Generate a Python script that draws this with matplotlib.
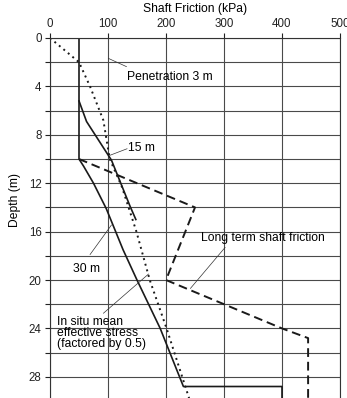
import matplotlib
matplotlib.use("Agg")
import matplotlib.pyplot as plt

plt.rcParams['font.family'] = ['Liberation Sans', 'DejaVu Sans']

# in situ mean effective stress (factored by 0.5) - dotted
stress_kpa = [0, 50, 69, 92, 103, 124, 149, 172, 201, 240]
stress_depth = [0, 2, 4, 6.8, 10, 12.3, 16, 20, 24, 29.8]

# penetration 15 m - solid
pen15_kpa = [50, 63, 106, 138, 148]
pen15_depth = [5.2, 6.9, 10.1, 13.9, 15]

# penetration 30 m - solid
pen30_kpa = [50, 50, 58, 75, 97, 126, 150, 190, 200, 230, 400, 400]
pen30_depth = [0, 10, 10.6, 12, 14.1, 17.5, 20, 24, 25.2, 28.8, 28.8, 30]

# long term shaft friction - dashed
longterm_kpa = [50, 250, 200, 300, 400, 445, 445]
longterm_depth = [10, 14, 20, 22, 24, 24.8, 30]

xticks = [0, 100, 200, 300, 400, 500]
yticks = [0, 4, 8, 12, 16, 20, 24, 28]

fig = plt.figure(figsize=(3.47, 3.98), dpi=100)
ax = fig.add_axes([50/347, 0, 290/347, 360/398])

ax.plot(stress_kpa, stress_depth, color='#1a1a1a', lw=1.4, dashes=(1, 2.0))
ax.plot(pen15_kpa, pen15_depth, color='#1a1a1a', lw=1.2)
ax.plot(pen30_kpa, pen30_depth, color='#1a1a1a', lw=1.2)
ax.plot(longterm_kpa, longterm_depth, color='#1a1a1a', lw=1.4, dashes=(4.5, 2.5))

ax.set_xlim(0, 500)
ax.set_ylim(29.75, 0)
ax.xaxis.tick_top()
ax.xaxis.set_label_position('top')
ax.set_xticks(xticks)
ax.set_yticks(yticks)
ax.set_yticks(range(0, 30, 2), minor=True)
ax.tick_params(axis='both', which='both', direction='out', length=3.5, width=0.8,
               labelsize=8.3, pad=2.5, colors='#222222')
ax.grid(True, which='both', color='#4a4a4a', lw=0.8)
ax.set_axisbelow(True)
for s in ax.spines.values():
    s.set_color('#333333')
    s.set_linewidth(0.8)
ax.spines['bottom'].set_visible(False)

ax.set_xlabel('Shaft Friction (kPa)', fontsize=8.7, labelpad=4)
fig.text(15/347, 1 - 200/398, 'Depth (m)', rotation=90, fontsize=8.7,
         ha='center', va='center')

lead = dict(arrowstyle='-', lw=0.5, color='#333333', shrinkA=0, shrinkB=0)
fs = 8.7
tk = dict(fontsize=fs, va='center', ha='left')
ax.annotate('', xy=(100.5, 1.68), xytext=(132, 2.37), arrowprops=lead)
ax.text(133, 3.2, 'Penetration 3 m', **tk)
ax.annotate('', xy=(103, 9.7), xytext=(133, 9.15), arrowprops=lead)
ax.text(134, 9.1, '15 m', **tk)
ax.annotate('', xy=(106, 15.45), xytext=(69, 17.9), arrowprops=lead)
ax.text(63, 19.1, '30 m', fontsize=fs, va='center', ha='center')
ax.annotate('', xy=(302, 17.3), xytext=(242, 20.7), arrowprops=lead)
ax.text(261, 16.55, 'Long term shaft friction', **tk)
ax.annotate('', xy=(170, 19.5), xytext=(92, 22.75), arrowprops=lead)
ax.text(11.5, 24.35, 'In situ mean\neffective stress\n(factored by 0.5)',
        fontsize=fs, va='center', ha='left', linespacing=0.9)

fig.savefig('out.png', dpi=100)
